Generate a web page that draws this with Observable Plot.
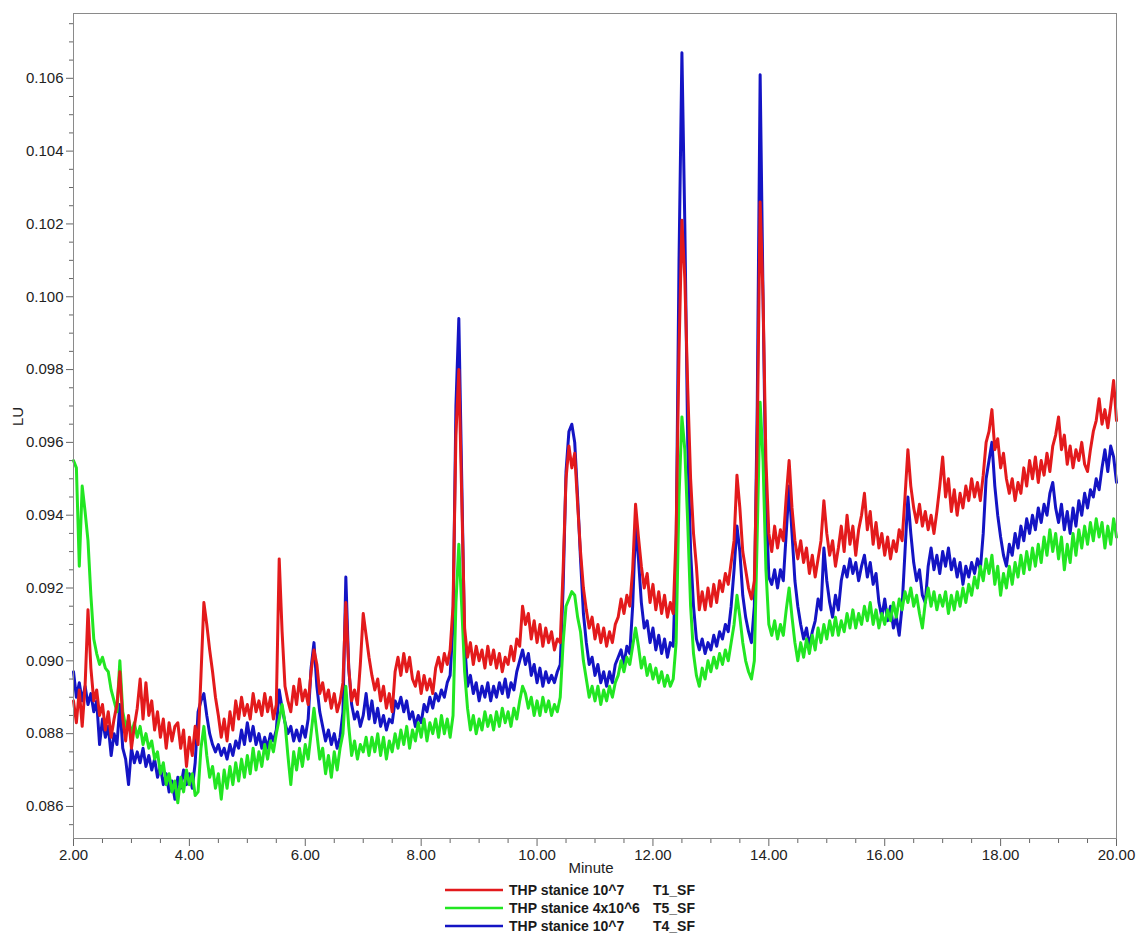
<!DOCTYPE html>
<html><head><meta charset="utf-8">
<script src="https://cdn.jsdelivr.net/npm/d3@7"></script>
<script src="https://cdn.jsdelivr.net/npm/@observablehq/plot@0.6"></script>
<style>
body{margin:0;background:#fff;font-family:"Liberation Sans",Arial,sans-serif;}
#wrap{position:relative;width:1137px;height:938px;overflow:hidden;}
#legend{position:absolute;left:445px;top:881px;font-weight:bold;font-size:14px;color:#1a1a1a;line-height:16px;}
.row{display:flex;align-items:center;height:18px;white-space:nowrap;}
.row svg{margin-right:6px;display:block}
.name{width:144px}
</style></head><body><div id="wrap"><div id="chart"></div><div id="legend"></div></div>
<script>
// sampling grid: 2.00 … 20.00 min every 0.05 min (361 samples)
const tStart = 2, tStep = 0.05, nSamples = 361;

// T1_SF — THP stanice 10^7 (red)
const t1_sf = [
0.0889,0.0883,0.0892,0.0882,0.0893,0.0914,0.0898,0.0889,0.0892,0.0885,0.0888,0.0881,0.0886,0.0879,0.0884,0.0888,0.0897,0.0884,0.0878,0.0885,
0.0876,0.0882,0.0887,0.0895,0.0884,0.0894,0.0885,0.0889,0.0881,0.0886,0.0879,0.0884,0.0876,0.0883,0.0878,0.0882,0.0883,0.0876,0.0881,0.0871,
0.0879,0.0874,0.0882,0.0877,0.0896,0.0916,0.0910,0.0903,0.0897,0.0890,0.0885,0.0879,0.0884,0.0878,0.0886,0.0881,0.0889,0.0884,0.0890,0.0885,
0.0888,0.0884,0.0891,0.0886,0.0889,0.0885,0.0891,0.0886,0.0890,0.0884,0.0888,0.0928,0.0908,0.0893,0.0889,0.0886,0.0893,0.0888,0.0895,0.0889,
0.0892,0.0888,0.0897,0.0903,0.0899,0.0891,0.0894,0.0889,0.0892,0.0887,0.0891,0.0886,0.0889,0.0894,0.0916,0.0898,0.0889,0.0892,0.0888,0.0899,
0.0913,0.0907,0.0901,0.0896,0.0892,0.0895,0.0889,0.0893,0.0887,0.0891,0.0886,0.0897,0.0901,0.0896,0.0902,0.0897,0.0901,0.0895,0.0893,0.0897,
0.0891,0.0896,0.0892,0.0895,0.0891,0.0898,0.0901,0.0897,0.0902,0.0899,0.0903,0.0915,0.0962,0.0980,0.0945,0.0909,0.0901,0.0905,0.0899,0.0904,
0.0900,0.0903,0.0898,0.0904,0.0899,0.0903,0.0898,0.0902,0.0897,0.0901,0.0899,0.0904,0.0900,0.0906,0.0904,0.0915,0.0910,0.0913,0.0906,0.0911,
0.0905,0.0910,0.0904,0.0909,0.0905,0.0908,0.0903,0.0906,0.0905,0.0925,0.0950,0.0959,0.0953,0.0957,0.0943,0.0930,0.0920,0.0914,0.0909,0.0912,
0.0906,0.0910,0.0905,0.0909,0.0904,0.0908,0.0905,0.0910,0.0912,0.0917,0.0913,0.0918,0.0915,0.0925,0.0943,0.0934,0.0926,0.0920,0.0924,0.0916,
0.0921,0.0914,0.0919,0.0913,0.0918,0.0912,0.0916,0.0913,0.0935,0.0985,0.1021,0.1005,0.0975,0.0950,0.0935,0.0926,0.0914,0.0919,0.0914,0.0920,
0.0915,0.0921,0.0916,0.0922,0.0919,0.0924,0.0921,0.0927,0.0933,0.0951,0.0942,0.0930,0.0925,0.0920,0.0917,0.0922,0.0960,0.1026,0.1000,0.0955,
0.0935,0.0930,0.0937,0.0931,0.0936,0.0933,0.0945,0.0955,0.0942,0.0933,0.0928,0.0933,0.0927,0.0931,0.0924,0.0929,0.0923,0.0928,0.0933,0.0944,
0.0935,0.0929,0.0933,0.0926,0.0931,0.0937,0.0930,0.0940,0.0932,0.0937,0.0929,0.0936,0.0940,0.0946,0.0936,0.0941,0.0932,0.0938,0.0931,0.0935,
0.0929,0.0934,0.0928,0.0933,0.0930,0.0936,0.0933,0.0945,0.0958,0.0948,0.0942,0.0938,0.0943,0.0937,0.0941,0.0936,0.0940,0.0935,0.0941,0.0948,
0.0956,0.0945,0.0950,0.0941,0.0947,0.0940,0.0946,0.0942,0.0948,0.0944,0.0950,0.0945,0.0949,0.0944,0.0951,0.0960,0.0963,0.0969,0.0958,0.0961,
0.0953,0.0957,0.0950,0.0946,0.0950,0.0944,0.0949,0.0946,0.0953,0.0948,0.0955,0.0950,0.0956,0.0949,0.0955,0.0951,0.0957,0.0952,0.0959,0.0962,
0.0967,0.0958,0.0962,0.0954,0.0959,0.0953,0.0958,0.0955,0.0960,0.0954,0.0952,0.0958,0.0963,0.0966,0.0972,0.0965,0.0969,0.0964,0.0970,0.0977,0.0966
];

// T5_SF — THP stanice 4x10^6 (green)
const t5_sf = [
0.0955,0.0953,0.0926,0.0948,0.0941,0.0933,0.0918,0.0906,0.0902,0.0899,0.0901,0.0898,0.0897,0.0892,0.0889,0.0886,0.0900,0.0886,0.0882,0.0884,
0.0880,0.0883,0.0879,0.0882,0.0877,0.0880,0.0876,0.0878,0.0873,0.0875,0.0869,0.0872,0.0866,0.0869,0.0864,0.0867,0.0861,0.0868,0.0864,0.0870,
0.0866,0.0869,0.0863,0.0864,0.0876,0.0882,0.0874,0.0868,0.0871,0.0865,0.0869,0.0862,0.0870,0.0865,0.0871,0.0866,0.0872,0.0867,0.0873,0.0868,
0.0874,0.0869,0.0876,0.0870,0.0875,0.0871,0.0877,0.0873,0.0878,0.0875,0.0880,0.0884,0.0888,0.0883,0.0874,0.0866,0.0875,0.0870,0.0876,0.0871,
0.0877,0.0873,0.0880,0.0887,0.0880,0.0873,0.0876,0.0869,0.0874,0.0868,0.0875,0.0870,0.0876,0.0880,0.0893,0.0882,0.0874,0.0878,0.0873,0.0877,
0.0875,0.0879,0.0874,0.0879,0.0875,0.0880,0.0874,0.0879,0.0873,0.0878,0.0875,0.0880,0.0876,0.0881,0.0877,0.0882,0.0876,0.0881,0.0878,0.0883,
0.0879,0.0884,0.0878,0.0883,0.0880,0.0884,0.0879,0.0885,0.0880,0.0884,0.0879,0.0885,0.0916,0.0932,0.0915,0.0897,0.0887,0.0881,0.0885,0.0880,
0.0884,0.0881,0.0886,0.0882,0.0885,0.0881,0.0886,0.0882,0.0887,0.0883,0.0886,0.0882,0.0887,0.0884,0.0889,0.0893,0.0891,0.0887,0.0890,0.0885,
0.0889,0.0885,0.0890,0.0886,0.0889,0.0885,0.0888,0.0886,0.0890,0.0905,0.0915,0.0917,0.0919,0.0918,0.0912,0.0908,0.0900,0.0895,0.0890,0.0893,
0.0889,0.0893,0.0888,0.0892,0.0889,0.0893,0.0890,0.0894,0.0896,0.0900,0.0897,0.0901,0.0899,0.0904,0.0909,0.0904,0.0898,0.0901,0.0896,0.0899,
0.0895,0.0898,0.0894,0.0897,0.0893,0.0896,0.0893,0.0895,0.0905,0.0945,0.0967,0.0958,0.0938,0.0915,0.0902,0.0896,0.0893,0.0898,0.0895,0.0900,
0.0897,0.0901,0.0898,0.0902,0.0899,0.0903,0.0900,0.0905,0.0910,0.0918,0.0912,0.0905,0.0900,0.0897,0.0895,0.0900,0.0935,0.0971,0.0955,0.0925,
0.0910,0.0907,0.0911,0.0906,0.0910,0.0907,0.0914,0.0920,0.0912,0.0905,0.0900,0.0905,0.0901,0.0906,0.0902,0.0907,0.0903,0.0909,0.0905,0.0910,
0.0906,0.0911,0.0907,0.0912,0.0907,0.0911,0.0908,0.0913,0.0909,0.0914,0.0909,0.0913,0.0910,0.0915,0.0911,0.0916,0.0910,0.0914,0.0909,0.0913,
0.0910,0.0914,0.0911,0.0916,0.0912,0.0917,0.0914,0.0919,0.0916,0.0920,0.0915,0.0918,0.0913,0.0909,0.0916,0.0920,0.0915,0.0919,0.0914,0.0918,
0.0915,0.0919,0.0913,0.0918,0.0914,0.0919,0.0915,0.0920,0.0916,0.0921,0.0918,0.0923,0.0920,0.0926,0.0922,0.0928,0.0924,0.0929,0.0921,0.0926,
0.0918,0.0924,0.0920,0.0926,0.0921,0.0927,0.0923,0.0929,0.0924,0.0930,0.0925,0.0931,0.0926,0.0932,0.0927,0.0934,0.0929,0.0936,0.0930,0.0935,
0.0928,0.0934,0.0925,0.0932,0.0927,0.0935,0.0929,0.0936,0.0931,0.0937,0.0932,0.0938,0.0933,0.0939,0.0934,0.0938,0.0931,0.0937,0.0932,0.0939,0.0934
];

// T4_SF — THP stanice 10^7 (blue)
const t4_sf = [
0.0897,0.0890,0.0894,0.0889,0.0893,0.0888,0.0891,0.0886,0.0889,0.0877,0.0884,0.0879,0.0882,0.0874,0.0880,0.0877,0.0888,0.0876,0.0873,0.0866,
0.0876,0.0872,0.0875,0.0872,0.0876,0.0871,0.0874,0.0870,0.0873,0.0868,0.0871,0.0866,0.0869,0.0864,0.0867,0.0862,0.0868,0.0865,0.0870,0.0866,
0.0869,0.0865,0.0872,0.0886,0.0889,0.0891,0.0885,0.0880,0.0877,0.0875,0.0877,0.0874,0.0876,0.0873,0.0877,0.0874,0.0878,0.0876,0.0881,0.0877,
0.0883,0.0878,0.0882,0.0877,0.0880,0.0876,0.0879,0.0876,0.0880,0.0878,0.0881,0.0892,0.0887,0.0883,0.0880,0.0882,0.0878,0.0881,0.0878,0.0882,
0.0879,0.0884,0.0898,0.0905,0.0893,0.0886,0.0882,0.0878,0.0881,0.0877,0.0880,0.0876,0.0879,0.0886,0.0923,0.0898,0.0888,0.0884,0.0886,0.0882,
0.0885,0.0891,0.0884,0.0889,0.0883,0.0887,0.0882,0.0885,0.0881,0.0884,0.0883,0.0889,0.0887,0.0890,0.0886,0.0889,0.0884,0.0886,0.0882,0.0885,
0.0883,0.0888,0.0886,0.0890,0.0887,0.0891,0.0889,0.0892,0.0890,0.0894,0.0896,0.0910,0.0970,0.0994,0.0950,0.0905,0.0893,0.0896,0.0891,0.0894,
0.0889,0.0893,0.0890,0.0894,0.0889,0.0893,0.0890,0.0894,0.0891,0.0895,0.0890,0.0894,0.0892,0.0897,0.0900,0.0903,0.0899,0.0902,0.0896,0.0899,
0.0894,0.0898,0.0893,0.0897,0.0894,0.0896,0.0894,0.0897,0.0899,0.0920,0.0952,0.0963,0.0965,0.0960,0.0945,0.0928,0.0913,0.0905,0.0899,0.0901,
0.0896,0.0899,0.0894,0.0897,0.0893,0.0897,0.0894,0.0899,0.0901,0.0903,0.0899,0.0904,0.0902,0.0915,0.0937,0.0928,0.0916,0.0909,0.0911,0.0905,
0.0909,0.0903,0.0907,0.0902,0.0906,0.0901,0.0905,0.0904,0.0930,0.1010,0.1067,0.1020,0.0960,0.0930,0.0915,0.0906,0.0903,0.0906,0.0902,0.0905,
0.0903,0.0907,0.0904,0.0908,0.0906,0.0910,0.0908,0.0915,0.0925,0.0937,0.0930,0.0918,0.0912,0.0908,0.0905,0.0915,0.0970,0.1061,0.1000,0.0945,
0.0923,0.0921,0.0925,0.0920,0.0925,0.0922,0.0935,0.0948,0.0935,0.0922,0.0915,0.0910,0.0906,0.0909,0.0904,0.0908,0.0911,0.0917,0.0914,0.0931,
0.0922,0.0916,0.0912,0.0918,0.0914,0.0922,0.0926,0.0923,0.0928,0.0924,0.0927,0.0922,0.0926,0.0929,0.0923,0.0927,0.0921,0.0924,0.0916,0.0912,
0.0917,0.0911,0.0915,0.0909,0.0912,0.0907,0.0915,0.0930,0.0945,0.0935,0.0927,0.0922,0.0925,0.0918,0.0916,0.0926,0.0931,0.0925,0.0929,0.0924,
0.0930,0.0926,0.0931,0.0925,0.0928,0.0923,0.0927,0.0921,0.0926,0.0923,0.0927,0.0924,0.0928,0.0925,0.0935,0.0950,0.0955,0.0960,0.0948,0.0940,
0.0934,0.0929,0.0926,0.0932,0.0929,0.0935,0.0931,0.0937,0.0933,0.0939,0.0935,0.0940,0.0936,0.0942,0.0938,0.0943,0.0940,0.0946,0.0949,0.0942,
0.0938,0.0943,0.0936,0.0941,0.0935,0.0942,0.0937,0.0944,0.0940,0.0946,0.0942,0.0947,0.0945,0.0950,0.0947,0.0953,0.0958,0.0952,0.0959,0.0956,0.0949
];

// axis ticks
const xTicks = [2, 4, 6, 8, 10, 12, 14, 16, 18, 20];
const xMinor = [2.5, 3, 3.5, 4.5, 5, 5.5, 6.5, 7, 7.5, 8.5, 9, 9.5, 10.5, 11, 11.5, 12.5, 13, 13.5, 14.5, 15, 15.5, 16.5, 17, 17.5, 18.5, 19, 19.5];
const yTicks = [0.086, 0.088, 0.090, 0.092, 0.094, 0.096, 0.098, 0.100, 0.102, 0.104, 0.106];
const yMinor = [0.0855, 0.0865, 0.087, 0.0875, 0.0885, 0.089, 0.0895, 0.0905, 0.091, 0.0915, 0.0925, 0.093, 0.0935, 0.0945, 0.095, 0.0955, 0.0965, 0.097, 0.0975, 0.0985, 0.099, 0.0995, 0.1005, 0.101, 0.1015, 0.1025, 0.103, 0.1035, 0.1045, 0.105, 0.1055, 0.1065, 0.107, 0.1075];

// legend entries (drawing order: blue, green, red)
const seriesNames = ["THP stanice 10^7", "THP stanice 4x10^6", "THP stanice 10^7"];
const seriesCodes = ["T1_SF", "T5_SF", "T4_SF"];
const seriesValues = [t1_sf, t5_sf, t4_sf];
const seriesColors = ["#e31a1c", "#22e622", "#1414c4"];
const drawOrder = [2, 1, 0];

const times = d3.range(nSamples).map(i => Math.round((tStart + i * tStep) * 100) / 100);
const tables = seriesValues.map(vals => times.map((t, i) => ({t, v: vals[i]})));

const fontFam = "'Liberation Sans', Arial, sans-serif";
const chart = Plot.plot({
  width: 1137, height: 880,
  marginLeft: 73, marginRight: 21, marginTop: 13, marginBottom: 42,
  style: {fontFamily: fontFam, fontSize: "15px", color: "#222", background: "#fff"},
  x: {domain: [2, 20]},
  y: {domain: [0.08512, 0.10778]},
  marks: [
    Plot.axisY(yMinor, {tickSize: 4, tickFormat: () => "", stroke: "#666", label: null}),
    Plot.axisY(yTicks, {tickSize: 7, tickPadding: 3, tickFormat: d3.format(".3f"), stroke: "#666", fontSize: 15, label: null}),
    Plot.axisX(xMinor, {tickSize: 5, tickFormat: () => "", stroke: "#666", label: null}),
    Plot.axisX(xTicks, {tickSize: 8, tickPadding: 3, tickFormat: d3.format(".2f"), stroke: "#666", fontSize: 15, label: null}),
    ...drawOrder.map(k => Plot.line(tables[k], {x: "t", y: "v", stroke: seriesColors[k], strokeWidth: 3, strokeLinejoin: "round"})),
    Plot.frame({stroke: "#8a8a8a"}),
    Plot.text(["LU"], {frameAnchor: "left", dx: -55, rotate: -90, fontSize: 15, fill: "#222"}),
    Plot.text(["Minute"], {frameAnchor: "bottom", dy: 34, dx: -4, fontSize: 15, fill: "#222"})
  ]
});
document.getElementById("chart").appendChild(chart);

const legend = document.getElementById("legend");
seriesNames.forEach((name, k) => {
  const row = document.createElement("div");
  row.className = "row";
  row.innerHTML = `<svg width="58" height="6"><line x1="0" y1="3" x2="58" y2="3" stroke="${seriesColors[k]}" stroke-width="2.6"/></svg><span class="name">${name}</span><span>${seriesCodes[k]}</span>`;
  legend.appendChild(row);
});
</script>
</body></html>
